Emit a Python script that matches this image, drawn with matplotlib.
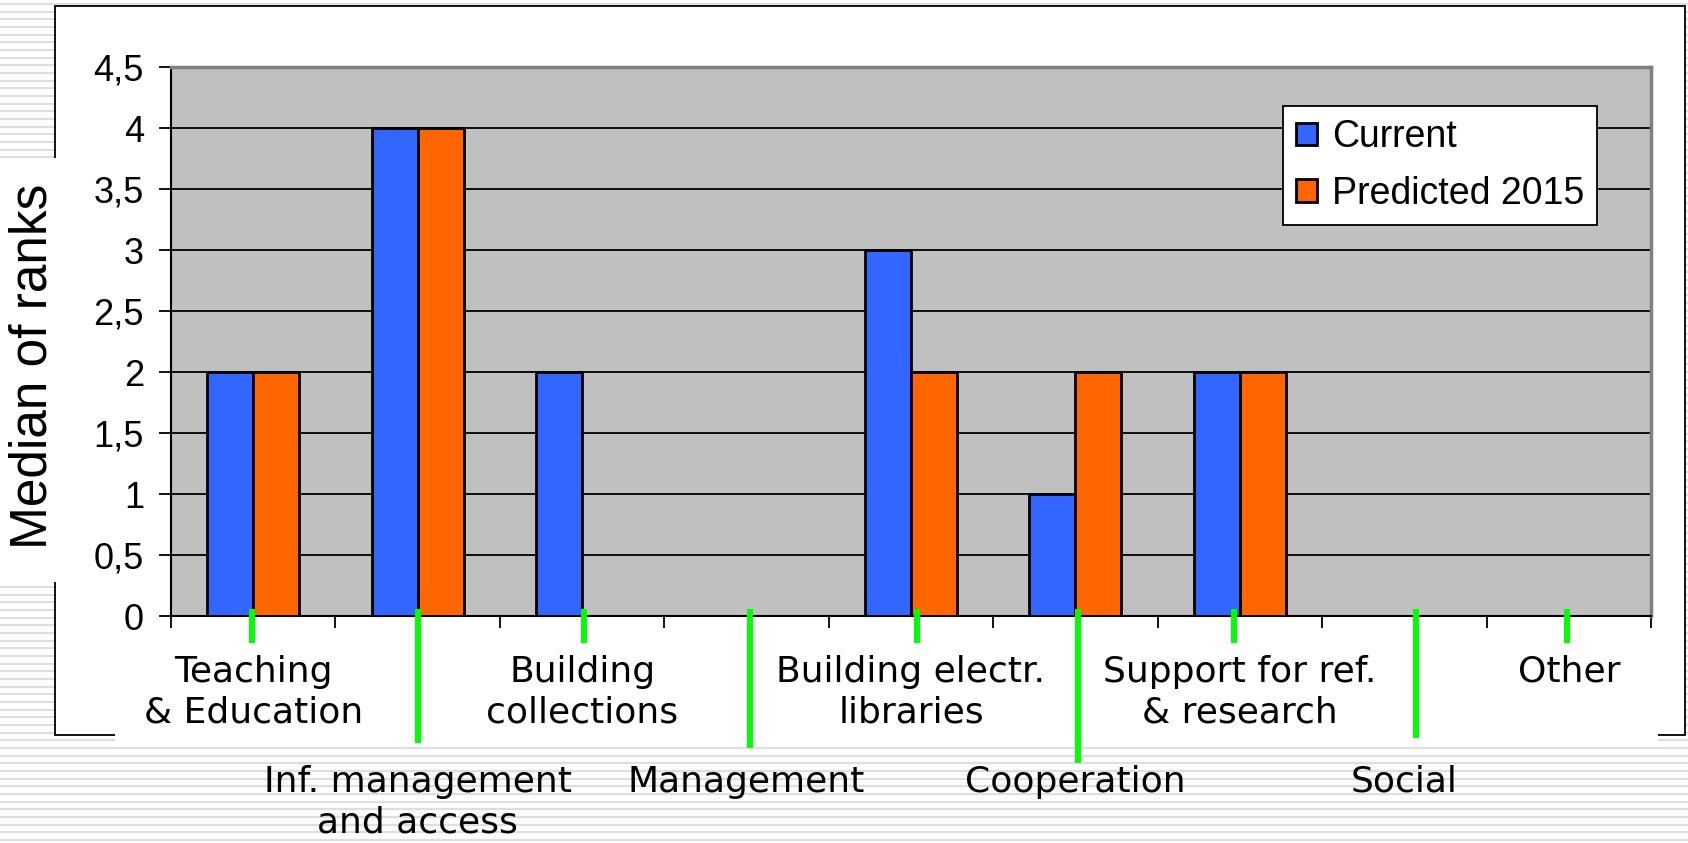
import numpy as np
import matplotlib
matplotlib.use("Agg")
import matplotlib.pyplot as plt
from matplotlib.patches import Rectangle
import matplotlib.transforms as mtransforms

# data
categories = ["Teaching\n& Education", "Inf. management\nand access", "Building\ncollections",
              "Management", "Building electr.\nlibraries", "Cooperation",
              "Support for ref.\n& research", "Social", "Other"]
current = [2, 4, 2, 0, 3, 1, 2, 0, 0]
predicted = [2, 4, 0, 0, 2, 2, 2, 0, 0]
yticks = [0, 0.5, 1, 1.5, 2, 2.5, 3, 3.5, 4, 4.5]
ytick_labels = ["0", "0,5", "1", "1,5", "2", "2,5", "3", "3,5", "4", "4,5"]

W, H = 1688, 843
fig = plt.figure(figsize=(W / 100, H / 100), dpi=100)

# slide background with stripes + chart frame (pixel coords)
bg = fig.add_axes([0, 0, 1, 1])
bg.set_xlim(0, W)
bg.set_ylim(H, 0)
bg.axis("off")
bg.hlines(np.arange(4, H, 7.67), 0, W, color="#DEDEDE", lw=1.6, zorder=0)
bg.add_patch(Rectangle((55, 6), 1630, 729, fc="white", ec="black", lw=1.3, zorder=1))
bg.add_patch(Rectangle((0, 158), 57, 424, fc="white", ec="none", zorder=2))
bg.add_patch(Rectangle((115, 620), 1543, 127, fc="white", ec="none", zorder=2))

# plot area
ax = fig.add_axes([171 / W, (H - 616) / H, 1480 / W, 549 / H])
ax.set_facecolor("#C0C0C0")
x = np.arange(len(categories))
bw = 0.28
ax.bar(x - bw / 2, current, bw, color="#3366FF", edgecolor="black", lw=2,
       label="Current", zorder=3)
ax.bar(x + bw / 2, predicted, bw, color="#FF6600", edgecolor="black", lw=2,
       label="Predicted 2015", zorder=3)

ax.set_xlim(-0.5, len(categories) - 0.5)
ax.set_ylim(0, 4.5)
ax.set_yticks(yticks)
ax.set_yticklabels(ytick_labels, family="Liberation Sans", fontsize=26)
ax.set_xticks(np.arange(len(categories) + 1) - 0.5)
ax.set_xticklabels([])
ax.tick_params(axis="both", length=8.5, width=1.3, color="black", direction="out")
ax.tick_params(axis="y", pad=11)
ax.yaxis.grid(True, color="black", lw=1.3, zorder=1)
ax.set_axisbelow(True)
for s in ["left", "bottom"]:
    ax.spines[s].set_color("black")
    ax.spines[s].set_linewidth(1.5)
for s in ["top", "right"]:
    ax.spines[s].set_color("#808080")
    ax.spines[s].set_linewidth(2.5)

# green marker lines (hand placed in the original) and category labels
trans = mtransforms.blended_transform_factory(ax.transData, fig.dpi_scale_trans)
green_end = [643, 743, 643, 748, 643, 763, 643, 738, 643]
green_shift = [-1, 0, 2, 3.5, 6, 2.7, -5.7, 12, -1.6]
for i, lab in enumerate(categories):
    t = trans + mtransforms.ScaledTranslation(green_shift[i] / 100, 0, fig.dpi_scale_trans)
    ax.plot([i, i], [(H - 609) / 100, (H - green_end[i]) / 100], color="#00FF00",
            lw=4.3, transform=t, clip_on=False, solid_capstyle="butt", zorder=5)
    top = 655 if i % 2 == 0 else 765
    ax.text(i, (H - top) / 100, lab, transform=trans, ha="center", va="top",
            multialignment="center", fontsize=26, family="DejaVu Sans",
            linespacing=1.25)

fig.text(33 / W, 1 - 366 / H, "Median of ranks", rotation=90, ha="center",
         va="center", fontsize=37, family="Liberation Sans")

leg = ax.legend(loc="upper left", bbox_to_anchor=((1283 - 171) / 1480, (616 - 106) / 549),
                borderaxespad=0, fancybox=False, framealpha=1, edgecolor="black",
                prop={"family": "Liberation Sans", "size": 27}, handlelength=0.55,
                handleheight=0.55, handletextpad=0.4, labelspacing=0.55, borderpad=0.35)
leg.get_frame().set_linewidth(1.3)

fig.savefig("out.png", dpi=100)
